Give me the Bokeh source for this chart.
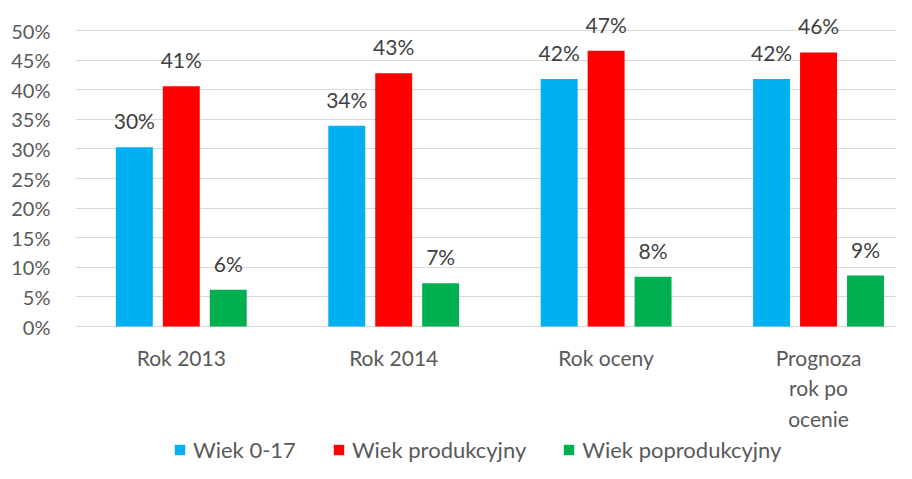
from bokeh.plotting import figure
from bokeh.models import ColumnDataSource, FixedTicker, Legend, LegendItem, Range1d
from bokeh.transform import dodge
from bokeh.core.properties import value
from bokeh.embed import file_html
from bokeh.resources import INLINE

categories = ["Rok 2013", "Rok 2014", "Rok oceny", "Prognoza\nrok po\nocenie"]
series_names = ["Wiek 0-17", "Wiek produkcyjny", "Wiek poprodukcyjny"]
wiek_0_17 = [30.3, 33.9, 41.8, 41.8]
wiek_produkcyjny = [40.6, 42.8, 46.6, 46.3]
wiek_poprodukcyjny = [6.2, 7.3, 8.4, 8.6]
colors = ["#00B0F0", "#FF0000", "#00B050"]
y_ticks = [0, 5, 10, 15, 20, 25, 30, 35, 40, 45, 50]
y_tick_labels = ["0%", "5%", "10%", "15%", "20%", "25%", "30%", "35%", "40%", "45%", "50%"]

FONT = "Lato"
xs = list(range(len(categories)))
series = [wiek_0_17, wiek_produkcyjny, wiek_poprodukcyjny]
offsets = [-0.221, 0.0, 0.221]

# frame covers the whole figure height; the space below 0 holds the category labels and legend
p = figure(width=896, height=463, output_backend="svg", toolbar_location=None,
           x_range=Range1d(-0.498, 3.367), y_range=Range1d(-23.14, 55.07),
           min_border_left=75, min_border_right=0, min_border_top=0, min_border_bottom=0)
p.outline_line_color = None
p.background_fill_color = "white"
p.xaxis.visible = False

items = []
for vals, name, col, off in zip(series, series_names, colors, offsets):
    src = ColumnDataSource(dict(x=xs, y=vals, lab=[f"{int(v + 0.5)}%" for v in vals]))
    r = p.vbar(x=dodge("x", off), top="y", bottom=0, width=0.174, source=src,
               fill_color=col, line_color=None)
    p.text(x=dodge("x", off), y="y", text="lab", source=src,
           text_align="center", text_baseline="bottom", y_offset=-14,
           text_font=value(FONT), text_font_size="21px", text_color="#404040")
    items.append(LegendItem(label=name, renderers=[r]))

# category labels under the zero line
cat_src = ColumnDataSource(dict(x=xs, y=[0] * len(xs), lab=categories))
p.text(x="x", y="y", text="lab", source=cat_src, text_align="center", text_baseline="top",
       y_offset=18, text_font=value(FONT), text_font_size="21px", text_color="#595959",
       text_line_height=1.22)

# y axis
p.yaxis.ticker = FixedTicker(ticks=y_ticks)
p.yaxis.major_label_overrides = {t: l for t, l in zip(y_ticks, y_tick_labels)}
p.yaxis.axis_line_color = None
p.yaxis.major_tick_line_color = None
p.yaxis.minor_tick_line_color = None
p.yaxis.major_label_standoff = 19
p.yaxis.major_label_text_font = FONT
p.yaxis.major_label_text_font_size = "20px"
p.yaxis.major_label_text_color = "#595959"

p.xgrid.grid_line_color = None
p.ygrid.grid_line_color = "#D9D9D9"
p.ygrid.grid_line_width = 1

legend = Legend(items=items, orientation="horizontal", location=(98, 0),
                label_text_font=FONT, label_text_font_size="22px", label_text_color="#595959",
                glyph_width=13, glyph_height=13, label_standoff=7, spacing=36,
                padding=1, margin=0, border_line_color=None, background_fill_alpha=0)
p.add_layout(legend, "center")

open("out.html", "w").write(file_html(p, INLINE))
